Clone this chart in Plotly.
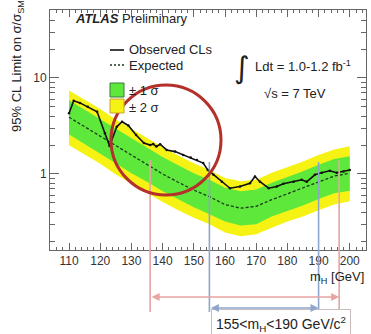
import plotly.graph_objects as go

# Observed 95% CL upper limit on sigma/sigma_SM versus Higgs mass
mass_obs = [110, 111.5, 113.5, 116, 119, 121.5, 123, 125.3, 127, 129, 131.5, 134,
            136, 137, 138, 139.2, 141.3, 144, 146.6, 149, 151, 153, 154.5, 156.3,
            159, 161.6, 164.8, 168, 169.6, 171.2, 174, 176.6, 178.7, 182, 184.6,
            186.2, 188.8, 191, 193.6, 195.8, 198, 200]
limit_obs = [4.3, 5.8, 5.5, 5.0, 4.45, 2.65, 1.96, 3.1, 3.5, 3.2, 2.55, 2.1,
             2.0, 2.05, 1.93, 2.04, 1.78, 1.71, 1.58, 1.48, 1.40, 1.30, 1.10, 0.98,
             0.83, 0.71, 0.74, 0.80, 0.94, 0.83, 0.71, 0.74, 0.79, 0.83, 0.87,
             0.83, 0.98, 1.03, 1.08, 1.03, 1.06, 1.10]

# Expected limit and its +-1 sigma / +-2 sigma bands
mass_exp = [110, 115, 120, 125, 130, 135, 140, 145, 150, 155, 160, 165, 170,
            175, 180, 185, 190, 195, 200]
limit_exp = [3.9, 3.1, 2.5, 1.95, 1.55, 1.25, 1.0, 0.82, 0.68, 0.58, 0.48, 0.44,
             0.46, 0.54, 0.62, 0.71, 0.83, 0.95, 1.02]
band_2s_hi = [7.4, 5.9, 4.75, 3.7, 2.95, 2.38, 1.9, 1.56, 1.29, 1.10, 0.91, 0.84,
              0.87, 1.03, 1.18, 1.35, 1.58, 1.80, 1.94]
band_1s_hi = [5.85, 4.65, 3.75, 2.93, 2.33, 1.88, 1.5, 1.23, 1.02, 0.87, 0.72, 0.66,
              0.69, 0.81, 0.93, 1.07, 1.25, 1.43, 1.53]
band_1s_lo = [2.57, 2.05, 1.65, 1.29, 1.02, 0.83, 0.66, 0.54, 0.45, 0.38, 0.32, 0.29,
              0.30, 0.36, 0.41, 0.47, 0.55, 0.63, 0.67]
band_2s_lo = [1.99, 1.58, 1.28, 0.99, 0.79, 0.64, 0.51, 0.42, 0.35, 0.30, 0.245, 0.225,
              0.235, 0.275, 0.32, 0.36, 0.42, 0.48, 0.52]

# Mass intervals marked below the axis
excluded_edges = [136.0, 196.6]
quoted_range = [155, 190]

YELLOW = "#f6f314"
GREEN = "#5ee83c"
PINK = "#e8a3a3"
BLUE = "#8fa6cc"
FONT = "Liberation Sans"

# plot area in pixels: x 50..366, y 10..250
def px(xp):
    return (xp - 50) / 316.0

def py(yp):
    return (250 - yp) / 240.0

fig = go.Figure()

fig.add_trace(go.Scatter(x=mass_exp, y=band_2s_lo, mode="lines",
                         line=dict(width=0, color=YELLOW), showlegend=False,
                         hoverinfo="skip"))
fig.add_trace(go.Scatter(x=mass_exp, y=band_2s_hi, mode="lines", fill="tonexty",
                         fillcolor=YELLOW, line=dict(width=0, color=YELLOW),
                         showlegend=False))
fig.add_trace(go.Scatter(x=mass_exp, y=band_1s_lo, mode="lines",
                         line=dict(width=0, color=GREEN), showlegend=False,
                         hoverinfo="skip"))
fig.add_trace(go.Scatter(x=mass_exp, y=band_1s_hi, mode="lines", fill="tonexty",
                         fillcolor=GREEN, line=dict(width=0, color=GREEN),
                         showlegend=False))
fig.add_trace(go.Scatter(x=mass_exp, y=limit_exp, mode="lines",
                         line=dict(color="#1d3a1d", width=1.3, dash="3px,2px"),
                         showlegend=False))
fig.add_trace(go.Scatter(x=mass_obs, y=limit_obs, mode="lines+markers",
                         line=dict(color="#111111", width=1.6),
                         marker=dict(size=2.5, color="#111111"),
                         showlegend=False))

shapes = []
# dotted reference line at sigma/sigma_SM = 1 (log axis -> log10(1) = 0)
shapes.append(dict(type="line", xref="paper", yref="y", x0=0, x1=1, y0=0, y1=0,
                   line=dict(color="#555a66", width=1, dash="dot")))
# vertical markers for the mass intervals
for m in excluded_edges:
    shapes.append(dict(type="line", xref="x", yref="paper", x0=m, x1=m,
                       y0=py(312), y1=py(160), line=dict(color=PINK, width=1.6)))
for m in quoted_range:
    shapes.append(dict(type="line", xref="x", yref="paper", x0=m, x1=m,
                       y0=py(312), y1=py(162), line=dict(color=BLUE, width=1.6)))
# highlight ring
shapes.append(dict(type="circle", xref="paper", yref="paper",
                   x0=px(111), x1=px(221), y0=py(195), y1=py(85),
                   line=dict(color="#b4302a", width=3)))
# legend samples
shapes.append(dict(type="line", xref="paper", yref="paper", x0=px(110), x1=px(124),
                   y0=py(50), y1=py(50), line=dict(color="#111111", width=1.6)))
shapes.append(dict(type="line", xref="paper", yref="paper", x0=px(110), x1=px(124),
                   y0=py(65), y1=py(65), line=dict(color="#1d3a1d", width=1.3, dash="2px,2px")))
shapes.append(dict(type="rect", xref="paper", yref="paper", x0=px(110), x1=px(124),
                   y0=py(97), y1=py(83), fillcolor=GREEN,
                   line=dict(color="#3d7a3d", width=1)))
shapes.append(dict(type="rect", xref="paper", yref="paper", x0=px(110), x1=px(124),
                   y0=py(113), y1=py(99), fillcolor=YELLOW,
                   line=dict(color="#c9a030", width=1)))

txt = dict(family=FONT, size=13, color="#222222")
annotations = [
    dict(text="<b><i>ATLAS</i></b> Preliminary", x=px(73), y=py(18),
         xanchor="left", yanchor="middle", font=txt),
    dict(text="Observed CLs", x=px(127), y=py(50), xanchor="left", yanchor="middle", font=txt),
    dict(text="Expected", x=px(127), y=py(65), xanchor="left", yanchor="middle", font=txt),
    dict(text="± 1 σ", x=px(127), y=py(90), xanchor="left", yanchor="middle", font=txt),
    dict(text="± 2 σ", x=px(127), y=py(107), xanchor="left", yanchor="middle", font=txt),
    dict(text="∫", x=px(242), y=py(67), xanchor="center", yanchor="middle",
         font=dict(family="DejaVu Sans", size=30, color="#222222")),
    dict(text="Ldt = 1.0-1.2 fb<sup>-1</sup>", x=px(253), y=py(66), xanchor="left",
         yanchor="middle", font=txt),
    dict(text="√s = 7 TeV", x=px(262), y=py(93), xanchor="left", yanchor="middle", font=txt),
    dict(text="m<sub>H</sub> [GeV]", x=px(366), y=py(277), xanchor="right",
         yanchor="middle", font=txt),
    dict(text="95% CL Limit on σ/σ<sub>SM</sub>", x=px(18), y=py(66), textangle=-90,
         xanchor="center", yanchor="middle", font=txt),
    dict(text="155<m<sub>H</sub><190 GeV/c<sup>2</sup>", x=px(281), y=py(324),
         xanchor="center", yanchor="middle",
         font=dict(family=FONT, size=14, color="#222222"),
         bordercolor="#c9bcbc", borderwidth=1, borderpad=4, bgcolor="white"),
    # double-headed arrows spanning the intervals
    dict(text="", x=excluded_edges[1], y=py(297), xref="x", yref="paper",
         ax=excluded_edges[0], ay=0, axref="x", ayref="pixel", showarrow=True,
         arrowhead=2, arrowside="end+start", arrowsize=1, arrowwidth=1.6,
         arrowcolor=PINK, standoff=0, startstandoff=0),
    dict(text="", x=quoted_range[1], y=py(308), xref="x", yref="paper",
         ax=quoted_range[0], ay=0, axref="x", ayref="pixel", showarrow=True,
         arrowhead=2, arrowside="end+start", arrowsize=1, arrowwidth=1.6,
         arrowcolor=BLUE, standoff=0, startstandoff=0),
]
for a in annotations:
    a.setdefault("xref", "paper")
    a.setdefault("yref", "paper")
    a.setdefault("showarrow", False)

axis_common = dict(showline=True, linecolor="#666666", linewidth=1, mirror="allticks",
                   ticks="inside", tickcolor="#666666", showgrid=False, zeroline=False,
                   tickfont=dict(family=FONT, size=12, color="#333333"))

fig.update_layout(
    width=371, height=334,
    margin=dict(l=50, r=5, t=10, b=84),
    paper_bgcolor="white", plot_bgcolor="white",
    showlegend=False,
    shapes=shapes,
    annotations=annotations,
    xaxis=dict(range=[103.9, 205.2], dtick=10, tick0=0, ticklen=7,
               minor=dict(dtick=2, ticks="inside", ticklen=3, tickcolor="#666666"),
               **axis_common),
    yaxis=dict(type="log", range=[-0.792, 1.708], dtick=1, ticklen=9,
               minor=dict(ticks="inside", ticklen=5, tickcolor="#666666"),
               **axis_common),
)

fig.write_html("out.html")
